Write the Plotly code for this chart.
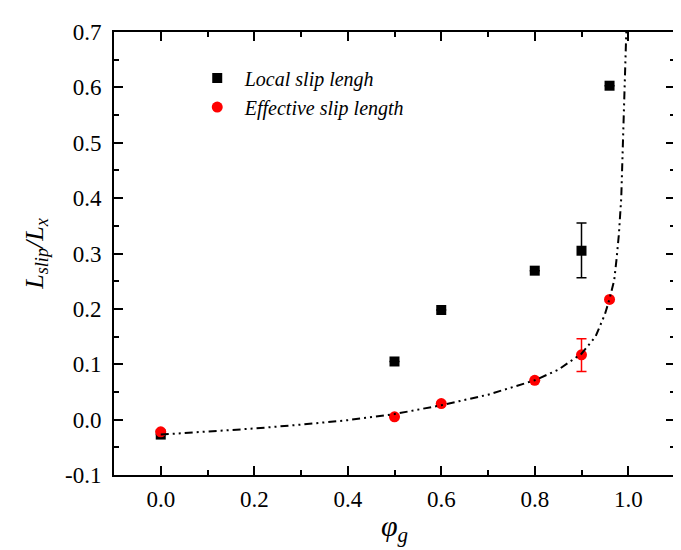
import plotly.graph_objects as go

# Data
phi = [0.0, 0.5, 0.6, 0.8, 0.9, 0.96]
local_slip = [-0.027, 0.105, 0.198, 0.269, 0.305, 0.603]
local_err_plus = [0, 0, 0, 0, 0.050, 0]
local_err_minus = [0, 0, 0, 0, 0.049, 0]
effective_slip = [-0.022, 0.005, 0.029, 0.071, 0.117, 0.217]
eff_err_plus = [0, 0, 0, 0, 0.029, 0]
eff_err_minus = [0, 0, 0, 0, 0.030, 0]

# Theory curve (dash-dot-dot), read point by point
curve_phi = [0.0, 0.1, 0.2, 0.3, 0.4, 0.5, 0.6, 0.7, 0.8, 0.85, 0.9, 0.93,
             0.95, 0.96, 0.97, 0.975, 0.98, 0.985, 0.99, 0.993, 0.996, 0.998]
curve_val = [-0.027, -0.022, -0.016, -0.009, -0.001, 0.010, 0.026, 0.045, 0.071,
             0.090, 0.119, 0.150, 0.190, 0.218, 0.252, 0.290, 0.335, 0.400,
             0.520, 0.600, 0.700, 0.760]

xticks = [0.0, 0.2, 0.4, 0.6, 0.8, 1.0]
yticks = [-0.1, 0.0, 0.1, 0.2, 0.3, 0.4, 0.5, 0.6, 0.7]

serif = "Liberation Serif"

fig = go.Figure()

fig.add_trace(go.Scatter(
    x=phi, y=local_slip, mode="markers", name="Local slip lengh",
    marker=dict(symbol="square", size=10, color="black"),
    error_y=dict(type="data", symmetric=False, array=local_err_plus,
                 arrayminus=local_err_minus, color="black", thickness=1.5, width=5),
))
fig.add_trace(go.Scatter(
    x=phi, y=effective_slip, mode="markers", name="Effective slip length",
    marker=dict(symbol="circle", size=11, color="#ff0000"),
    error_y=dict(type="data", symmetric=False, array=eff_err_plus,
                 arrayminus=eff_err_minus, color="#ff0000", thickness=1.5, width=5),
))
fig.add_trace(go.Scatter(
    x=curve_phi, y=curve_val, mode="lines", showlegend=False,
    line=dict(color="black", width=2, dash="8px,4px,2px,4px,2px,4px"),
))

axis_common = dict(
    showline=True, linecolor="black", linewidth=2, mirror="ticks",
    ticks="inside", ticklen=9, tickwidth=1.5, tickcolor="black",
    showgrid=False, zeroline=False,
    tickfont=dict(family=serif, size=23, color="black"),
)

fig.update_xaxes(
    range=[-0.1, 1.1], tickvals=xticks, ticktext=[f"{v:.1f}" for v in xticks],
    minor=dict(ticks="inside", ticklen=5, tickwidth=1.5, tickcolor="black", dtick=0.1, tick0=0),
    title=dict(text="<i>φ<sub>g</sub></i>", font=dict(family=serif, size=30, color="black"),
               standoff=4),
    ticklabelstandoff=2,
    **axis_common,
)
fig.update_yaxes(
    range=[-0.1, 0.7], tickvals=yticks, ticktext=[f"{v:.1f}" for v in yticks],
    minor=dict(ticks="inside", ticklen=5, tickwidth=1.5, tickcolor="black", dtick=0.05, tick0=0),
    title=dict(text="<i>L<sub>slip</sub>/L<sub>x</sub></i>",
               font=dict(family=serif, size=26, color="black"), standoff=14),
    ticklabelstandoff=6,
    **axis_common,
)

fig.update_layout(
    width=681, height=550,
    font=dict(family=serif, color="black"),
    margin=dict(l=106, r=14, t=16, b=83),
    paper_bgcolor="white", plot_bgcolor="white",
    legend=dict(x=0.135, y=0.94, xanchor="left", yanchor="top",
                bgcolor="rgba(0,0,0,0)", itemwidth=45, tracegroupgap=0,
                font=dict(family=serif, size=20, color="black", style="italic")),
)

fig.write_html("out.html")
